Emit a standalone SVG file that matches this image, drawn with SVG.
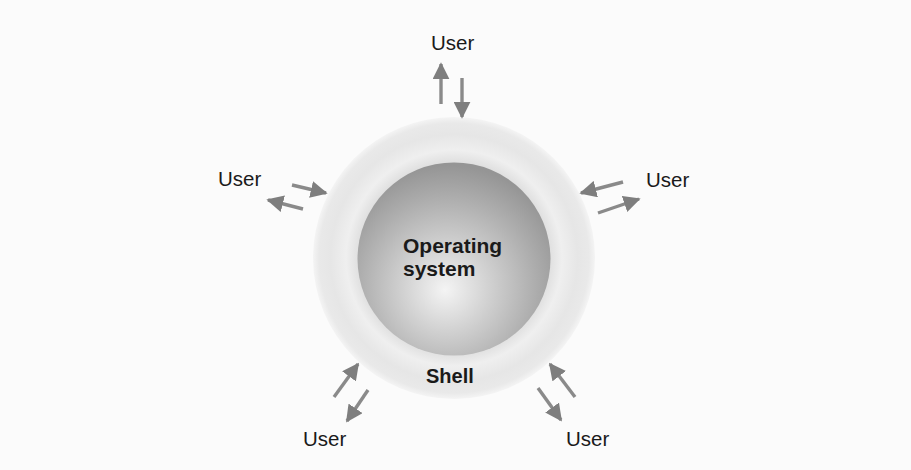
<svg xmlns="http://www.w3.org/2000/svg" width="911" height="470" viewBox="0 0 911 470">
<defs>
<radialGradient id="shellG" cx="454" cy="258" r="142" gradientUnits="userSpaceOnUse">
<stop offset="0.66" stop-color="#dddddd"/>
<stop offset="0.76" stop-color="#efefef"/>
<stop offset="0.87" stop-color="#e6e6e6"/>
<stop offset="0.95" stop-color="#e9e9e9"/>
<stop offset="1" stop-color="#f6f6f6"/>
</radialGradient>
<radialGradient id="osG" cx="448" cy="285" r="120" fx="445" fy="290" gradientUnits="userSpaceOnUse">
<stop offset="0" stop-color="#f4f4f4"/>
<stop offset="0.35" stop-color="#d2d2d2"/>
<stop offset="0.75" stop-color="#acacac"/>
<stop offset="1" stop-color="#959595"/>
</radialGradient>
<marker id="ah" viewBox="0 0 10 10" refX="9" refY="5" markerWidth="5" markerHeight="5" markerUnits="strokeWidth" orient="auto">
<path d="M0,0 L10,5 L0,10 Z" fill="#7e7e7e"/>
</marker>
<style>
.lbl{font-family:"Liberation Sans",Arial,sans-serif;font-size:20.5px;fill:#1a1a1a}
.b{font-weight:bold;font-size:21px}
.arr{stroke:#8a8a8a;stroke-width:3.4;fill:none;marker-end:url(#ah)}
</style>
</defs>
<rect width="911" height="470" fill="#fbfbfb"/>
<g id="shell">
<circle cx="454" cy="258" r="141" fill="url(#shellG)"/>
<text class="lbl b" x="426" y="383" style="font-size:20px">Shell</text>
</g>
<g id="os">
<circle cx="454" cy="259" r="96.5" fill="url(#osG)"/>
<text class="lbl b" x="403" y="253">Operating</text>
<text class="lbl b" x="403" y="276">system</text>
</g>
<g id="user-top"><text class="lbl" x="431" y="50">User</text></g>
<g id="user-left"><text class="lbl" x="218" y="186">User</text></g>
<g id="user-right"><text class="lbl" x="646" y="187">User</text></g>
<g id="user-bl"><text class="lbl" x="303" y="446">User</text></g>
<g id="user-br"><text class="lbl" x="566" y="446">User</text></g>
<g id="connectors">
<path class="arr" d="M441,104 L441,64"/>
<path class="arr" d="M462,78 L462,117"/>
<path class="arr" d="M292,185 L326,193"/>
<path class="arr" d="M303,209 L268,200"/>
<path class="arr" d="M623,182 L581,193"/>
<path class="arr" d="M598,213 L639,199"/>
<path class="arr" d="M334,397 L358,364"/>
<path class="arr" d="M368,390 L347,421"/>
<path class="arr" d="M575,397 L550,364"/>
<path class="arr" d="M538,388 L561,420"/>
</g>
</svg>
